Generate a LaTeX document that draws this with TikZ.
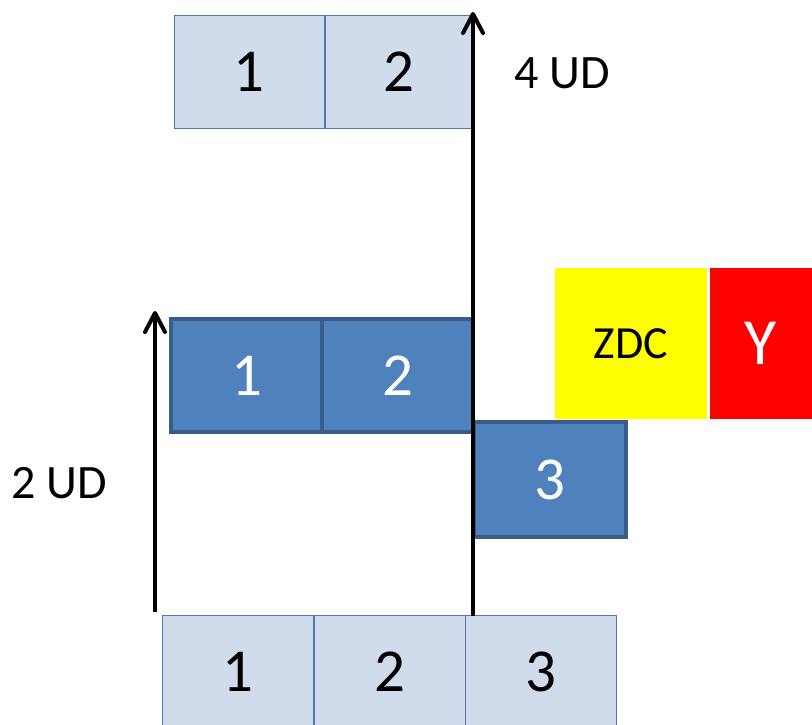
\documentclass[tikz,border=0pt]{standalone}
\usepackage{fontspec}
\setmainfont{Carlito}
\definecolor{lightbox}{RGB}{208,220,235}
\definecolor{lightedge}{RGB}{79,120,176}
\definecolor{darkbox}{RGB}{79,129,189}
\definecolor{darkedge}{RGB}{56,93,138}
\definecolor{zdcyellow}{RGB}{255,255,0}
\definecolor{yred}{RGB}{255,0,0}
\tikzset{
  lightcell/.style={draw=lightedge, line width=1pt, fill=lightbox, minimum width=151pt, minimum height=113pt, inner sep=0pt, font=\fontsize{61}{61}\selectfont, text=black},
  darkcell/.style={draw=darkedge, line width=3.5pt, fill=darkbox, minimum width=151pt, minimum height=113pt, inner sep=0pt, font=\fontsize{61}{61}\selectfont, text=white},
  udshaft/.style={line width=4pt},
  udhead/.style={line width=4pt, line cap=round, line join=round},
  label/.style={font=\fontsize{48}{48}\selectfont, inner sep=0pt}
}
\begin{document}
\begin{tikzpicture}[x=1pt,y=-1pt]
\useasboundingbox (0,0) rectangle (812,724);
\clip (0,0) rectangle (812,724);
% top
\node[lightcell, minimum width=150pt] (t1) at (249,71.5) {1};
\node[lightcell, minimum width=148pt] (t2) at (399,71.5) {2};
% bottom
\node[lightcell] (b1) at (237.5,671.5) {1};
\node[lightcell] (b2) at (389.5,672) {2};
\node[lightcell] (b3) at (540.5,671.5) {3};
% middle
\node[darkcell] (m1) at (246.5,375.5) {1};
\node[darkcell] (m2) at (397.5,375.5) {2};
\node[darkcell, minimum width=152pt, minimum height=115pt] (m3) at (550,479.5) {3};
% ZDC and Y
\node[fill=zdcyellow, minimum width=152pt, minimum height=151pt, inner sep=0pt, font=\fontsize{46}{46}\selectfont] (zdc) at (631,343.5) {ZDC};
\node[fill=yred, minimum width=102pt, minimum height=151pt, inner sep=0pt, text=white, font=\fontsize{66}{66}\selectfont] (y) at (761,343.5) {Y};
% arrows
\coordinate (la0) at (155,612);
\coordinate (la1) at (155,313);
\coordinate (ra0) at (473,616);
\coordinate (ra1) at (473,14);
\draw[udshaft] (la0) -- (la1);
\draw[udhead] ([xshift=-10pt,yshift=-19pt]la1) -- (la1) -- ([xshift=10pt,yshift=-19pt]la1);
\draw[udshaft] (ra0) -- (ra1);
\draw[udhead] ([xshift=-10pt,yshift=-19pt]ra1) -- (ra1) -- ([xshift=10pt,yshift=-19pt]ra1);
% labels
\node[label] (l4) at (562,73) {4 UD};
\node[label] (l2) at (59,483) {2 UD};
\end{tikzpicture}
\end{document}
